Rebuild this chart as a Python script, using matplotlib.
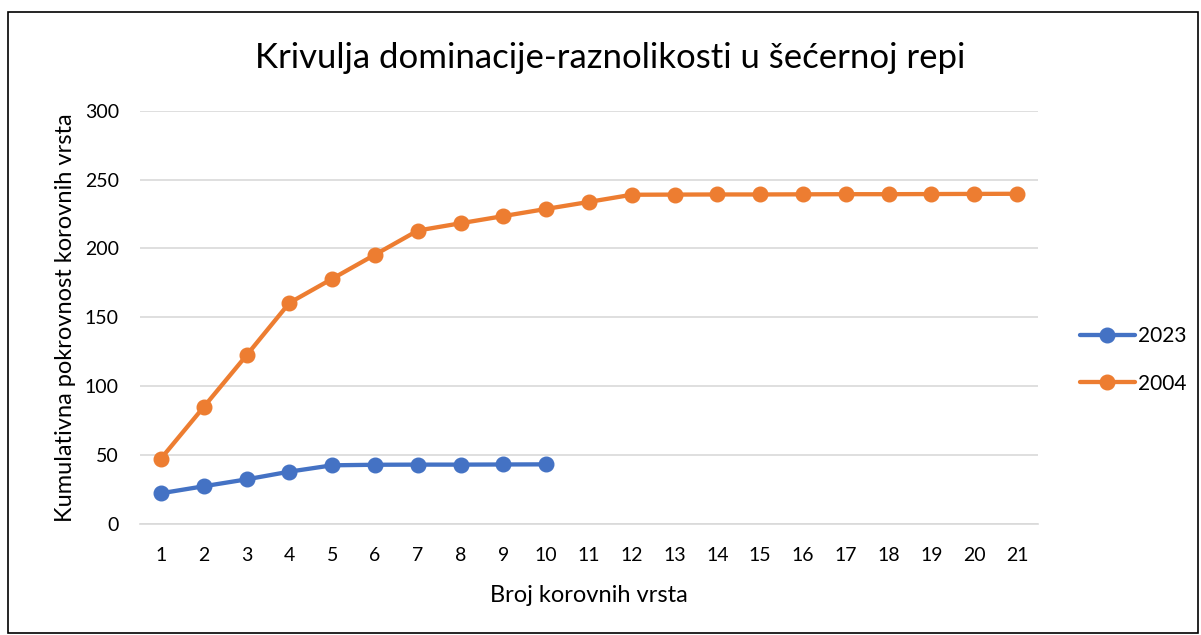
import matplotlib
matplotlib.use("Agg")
import matplotlib.pyplot as plt
from matplotlib.patches import Rectangle

# Broj korovnih vrsta (x) i kumulativna pokrovnost (y)
vrste_2023 = [1, 2, 3, 4, 5, 6, 7, 8, 9, 10]
pokrovnost_2023 = [22.3, 27.4, 32.4, 38.0, 42.6, 43.0, 43.1, 43.1, 43.2, 43.3]

vrste_2004 = list(range(1, 22))
pokrovnost_2004 = [47.5, 85.0, 122.5, 160.5, 178.0, 195.5, 213.0, 218.3,
                   223.5, 228.7, 233.8, 239.0, 239.1, 239.2, 239.2, 239.3,
                   239.4, 239.4, 239.5, 239.6, 239.7]

y_ticks = [0, 50, 100, 150, 200, 250, 300]

BLUE = "#4472C4"
ORANGE = "#ED7D31"
FONT = ["Lato", "DejaVu Sans"]
plt.rcParams["font.family"] = FONT

W, H = 1201, 635
fig = plt.figure(figsize=(W / 100, H / 100), dpi=100)
ax = fig.add_axes([139.6 / W, 1 - 524 / H, (1038.4 - 139.6) / W, (524 - 110.7) / H])

# okvir grafikona
fig.patches.append(Rectangle((8 / W, 2 / H), 1190 / W, 621 / H,
                             transform=fig.transFigure, fill=False,
                             edgecolor="black", linewidth=1.2))

ax.plot(vrste_2023, pokrovnost_2023, color=BLUE, lw=3.1, marker="o",
        ms=10.5, label="2023", solid_capstyle="round", zorder=3)
ax.plot(vrste_2004, pokrovnost_2004, color=ORANGE, lw=3.1, marker="o",
        ms=10.5, label="2004", solid_capstyle="round", zorder=3)

ax.set_xlim(0.5, 21.5)
ax.set_ylim(0, 300)
ax.set_xticks(vrste_2004)
ax.set_yticks(y_ticks)
ax.tick_params(length=0, labelsize=14, colors="#000000")
ax.tick_params(axis="x", pad=16.5)
ax.tick_params(axis="y", pad=15)
ax.grid(axis="y", color="#D9D9D9", lw=1.2)
ax.set_axisbelow(True)
for s in ["top", "right", "left"]:
    ax.spines[s].set_visible(False)
ax.spines["bottom"].set_color("#D9D9D9")
ax.spines["bottom"].set_linewidth(1.2)

ax.set_xlabel("Broj korovnih vrsta", fontsize=17, va="center")
ax.xaxis.set_label_coords(0.5, (524 - 595) / 413.3)
ax.set_ylabel("Kumulativna pokrovnost korovnih vrsta", fontsize=17, va="center")
ax.yaxis.set_label_coords((66 - 139.6) / 898.8, 0.5)

fig.text(610 / W, 1 - 58 / H, "Krivulja dominacije-raznolikosti u šećernoj repi",
         ha="center", va="center", fontsize=25)

ax.legend(loc="center left", bbox_to_anchor=(1072 / W, 1 - 360 / H),
          bbox_transform=fig.transFigure, frameon=False, borderaxespad=0,
          fontsize=15, handlelength=2.6, handletextpad=0.15, labelspacing=1.3)

fig.savefig("out.png", dpi=100)
